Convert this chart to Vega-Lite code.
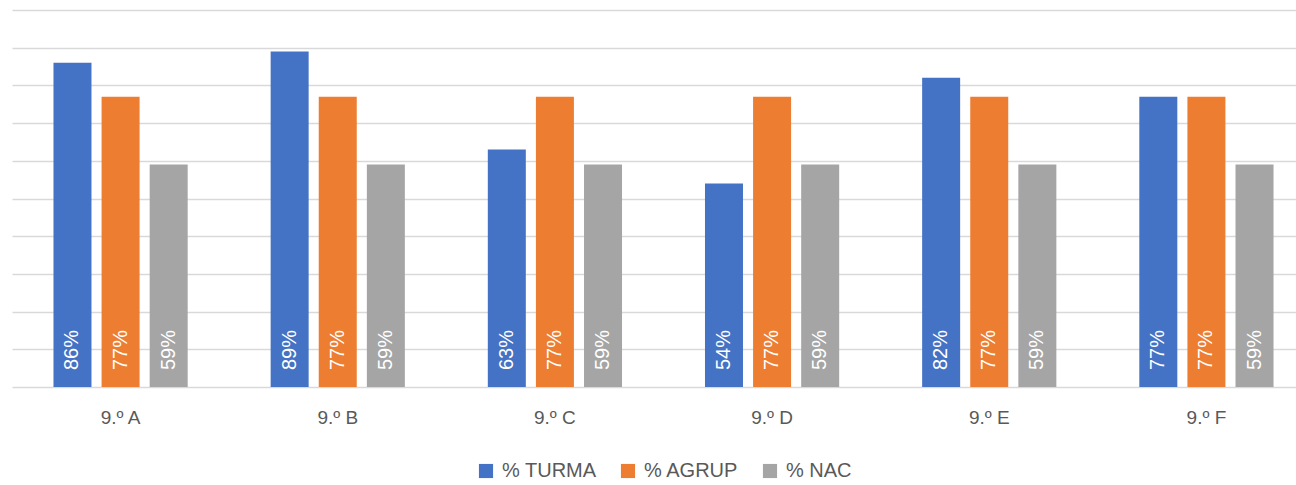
{
  "$schema": "https://vega.github.io/schema/vega-lite/v6.json",
  "width": 1303,
  "height": 377,
  "autosize": {"type": "none"},
  "padding": {"left": 12, "top": 10, "right": 0, "bottom": 98},
  "config": {"view": {"stroke": null}, "font": "Liberation Sans", "legend": {"layout": {"bottom": {"anchor": "middle"}}}},
  "data": {
    "values": [
      {"turma": "9.º A", "serie": "% TURMA", "valor": 0.86},
      {"turma": "9.º A", "serie": "% AGRUP", "valor": 0.77},
      {"turma": "9.º A", "serie": "% NAC", "valor": 0.59},
      {"turma": "9.º B", "serie": "% TURMA", "valor": 0.89},
      {"turma": "9.º B", "serie": "% AGRUP", "valor": 0.77},
      {"turma": "9.º B", "serie": "% NAC", "valor": 0.59},
      {"turma": "9.º C", "serie": "% TURMA", "valor": 0.63},
      {"turma": "9.º C", "serie": "% AGRUP", "valor": 0.77},
      {"turma": "9.º C", "serie": "% NAC", "valor": 0.59},
      {"turma": "9.º D", "serie": "% TURMA", "valor": 0.54},
      {"turma": "9.º D", "serie": "% AGRUP", "valor": 0.77},
      {"turma": "9.º D", "serie": "% NAC", "valor": 0.59},
      {"turma": "9.º E", "serie": "% TURMA", "valor": 0.82},
      {"turma": "9.º E", "serie": "% AGRUP", "valor": 0.77},
      {"turma": "9.º E", "serie": "% NAC", "valor": 0.59},
      {"turma": "9.º F", "serie": "% TURMA", "valor": 0.77},
      {"turma": "9.º F", "serie": "% AGRUP", "valor": 0.77},
      {"turma": "9.º F", "serie": "% NAC", "valor": 0.59}
    ]
  },
  "encoding": {
    "x": {
      "field": "turma", "type": "nominal", "sort": null, "title": null,
      "scale": {"paddingInner": 0.382, "paddingOuter": 0.191},
      "axis": {"labelAngle": 0, "ticks": false, "domain": false, "labelPadding": 21, "labelFontSize": 19, "labelColor": "#595959", "labelFont": "Liberation Sans"}
    },
    "xOffset": {
      "field": "serie", "type": "nominal", "sort": ["% TURMA", "% AGRUP", "% NAC"],
      "scale": {"paddingInner": 0.21, "paddingOuter": 0}
    },
    "y": {
      "field": "valor", "type": "quantitative", "title": null,
      "scale": {"domain": [0, 1], "nice": false},
      "axis": {"values": [0, 0.1, 0.2, 0.3, 0.4, 0.5, 0.6, 0.7, 0.8, 0.9, 1], "labels": false, "ticks": false, "domain": false, "gridColor": "#D9D9D9", "gridWidth": 1.3}
    }
  },
  "layer": [
    {
      "mark": {"type": "bar"},
      "encoding": {
        "color": {
          "field": "serie", "type": "nominal", "sort": ["% TURMA", "% AGRUP", "% NAC"], "title": null,
          "scale": {"domain": ["% TURMA", "% AGRUP", "% NAC"], "range": ["#4472C4", "#ED7D31", "#A5A5A5"]},
          "legend": {"orient": "bottom", "direction": "horizontal", "symbolType": "square", "symbolSize": 200, "symbolStrokeWidth": 0, "labelFontSize": 20, "labelColor": "#595959", "labelFont": "Liberation Sans", "columnPadding": 21, "offset": 34, "labelOffset": 6}
        }
      }
    },
    {
      "mark": {"type": "text", "angle": -90, "align": "left", "baseline": "middle", "dx": 17, "color": "white", "fontSize": 20, "font": "Liberation Sans"},
      "encoding": {
        "y": {"datum": 0},
        "text": {"field": "valor", "type": "quantitative", "format": ".0%"}
      }
    }
  ]
}
